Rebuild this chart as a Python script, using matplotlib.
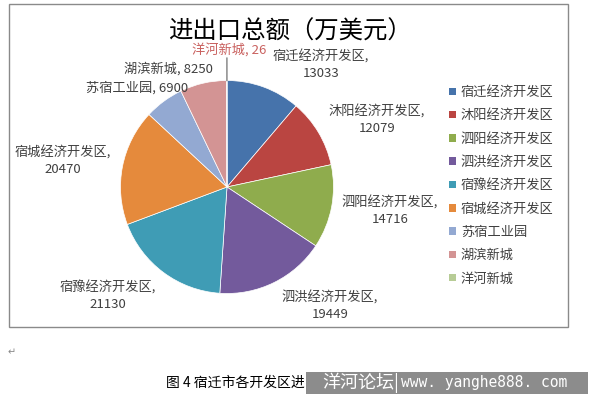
import matplotlib
matplotlib.use("Agg")
import matplotlib.pyplot as plt
from matplotlib.patches import Rectangle, Patch
import numpy as np

plt.rcParams['font.family'] = ['Noto Sans CJK SC', 'DejaVu Sans']

# ---- data ----
legend_labels = ["宿迁经济开发区", "沐阳经济开发区", "泗阳经济开发区", "泗洪经济开发区",
                 "宿豫经济开发区", "宿城经济开发区", "苏宿工业园", "湖滨新城", "洋河新城"]
data_label_names = ["宿迁经济开发区", "沐阳经济开发区", "泗阳经济开发区", "泗洪经济开发区",
                    "宿豫经济开发区", "宿城经济开发区", "苏宿工业园", "湖滨新城", "洋河新城"]
values = [13033, 12079, 14716, 19449, 21130, 20470, 6900, 8250, 26]
title = "进出口总额（万美元）"
caption = "图 4 宿迁市各开发区进"
watermark_cn = "洋河论坛|"
watermark_url = "www. yanghe888. com"

# ---- style / layout ----
colors = ["#4673AB", "#BA4541", "#8FAC4D", "#735A9C", "#3F9CB5", "#E58A3C",
          "#93A9D2", "#D39494", "#B7CC96"]
W, H = 593, 398
fig = plt.figure(figsize=(W / 100, H / 100), dpi=100)
fig.patch.set_facecolor("white")

def fx(px):
    return px / W

def fy(py):
    return 1 - py / H

# chart border
fig.patches.append(Rectangle((fx(9), fy(327)), fx(568) - fx(9), fy(4) - fy(327),
                             transform=fig.transFigure, fill=False,
                             edgecolor="#8A8A8A", linewidth=1.0))

# pie axes
cx, cy, r = 227, 187, 106.5
ax = fig.add_axes([fx(cx - r), fy(cy + r), (2 * r) / W, (2 * r) / H])
wedges, _ = ax.pie(values, colors=colors, startangle=90, counterclock=False,
                   radius=1, wedgeprops=dict(edgecolor="white", linewidth=0.5))
ax.set_xlim(-1, 1)
ax.set_ylim(-1, 1)
ax.axis("off")

# leader line for the tiny slice
w = wedges[-1]
mid = np.deg2rad((w.theta1 + w.theta2) / 2)
ax.plot([np.cos(mid), np.cos(mid) * 1.2], [np.sin(mid), 1.21], color="#7F7F7F",
        linewidth=1.0, clip_on=False)

# title
fig.text(fx(290), fy(32), title, ha="center", va="center", fontsize=17.6,
         fontweight="normal", color="#000000")

# data labels (positions in pixels)
label_pos = [(321, 57, 2), (377, 112, 2), (390, 203, 2), (330, 298, 2),
             (108, 288, 2), (63, 153, 2), (137, 88, 1), (168, 69, 1), (229, 51, 1)]
for name, v, (px, py, lines) in zip(data_label_names, values, label_pos):
    col = "#C9605E" if v < 100 else "#404040"
    if lines == 2:
        fig.text(fx(px), fy(py), name + ",", ha="center", va="center",
                 fontsize=9.5, color=col)
        fig.text(fx(px), fy(py + 16.5), str(v), ha="center", va="center",
                 fontsize=9.5, color=col)
    else:
        fig.text(fx(px), fy(py), f"{name}, {v}", ha="center", va="center",
                 fontsize=9.5, color=col)

# legend
handles = [Patch(facecolor=c, edgecolor="none") for c in colors]
fig.legend(handles, legend_labels, loc="upper left",
           bbox_to_anchor=(fx(449), fy(86)), frameon=False, fontsize=9.5,
           handlelength=0.5, handleheight=0.5, handletextpad=0.4,
           labelspacing=0.78, borderpad=0, borderaxespad=0, labelcolor="#404040")

# paragraph mark
fig.text(fx(8), fy(352), "↵", ha="left", va="center", fontsize=7, color="#888888")

# caption
fig.text(fx(166), fy(383), caption, ha="left", va="center", fontsize=10,
         color="#000000")

# watermark box
fig.patches.append(Rectangle((fx(306), fy(394)), fx(588) - fx(306), fy(372) - fy(394),
                             transform=fig.transFigure, facecolor="#8C8C8C",
                             edgecolor="none"))
fig.text(fx(322), fy(383), watermark_cn, ha="left", va="center", fontsize=13,
         color="white")
fig.text(fx(567), fy(383), watermark_url, ha="right", va="center", fontsize=10.5,
         color="white", family=["DejaVu Sans Mono"])

fig.savefig("out.png", dpi=100)
